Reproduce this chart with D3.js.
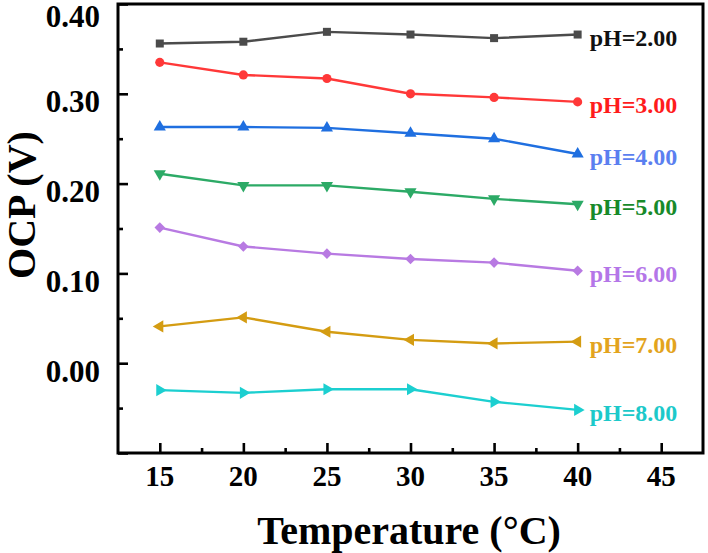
<!DOCTYPE html>
<html>
<head>
<meta charset="utf-8">
<script src="https://cdn.jsdelivr.net/npm/d3@7"></script>
<style>
  html, body { margin: 0; padding: 0; background: #fff; }
  svg { display: block; }
</style>
</head>
<body>
<svg id="chart" width="708" height="553" font-family="'Liberation Serif', 'Times New Roman', Times, serif" font-weight="bold"></svg>
<script>
// ---- Data ----
const temperatures = [15, 20, 25, 30, 35, 40];
const seriesNames = ["pH=2.00", "pH=3.00", "pH=4.00", "pH=5.00", "pH=6.00", "pH=7.00", "pH=8.00"];
const pH2 = [0.356, 0.358, 0.369, 0.366, 0.362, 0.366];
const pH3 = [0.335, 0.321, 0.317, 0.300, 0.296, 0.291];
const pH4 = [0.263, 0.263, 0.262, 0.256, 0.250, 0.233];
const pH5 = [0.211, 0.198, 0.198, 0.191, 0.183, 0.177];
const pH6 = [0.151, 0.130, 0.122, 0.116, 0.112, 0.103];
const pH7 = [0.041, 0.051, 0.035, 0.026, 0.022, 0.024];
const pH8 = [-0.030, -0.033, -0.029, -0.029, -0.043, -0.052];
const xTicks = [15, 20, 25, 30, 35, 40, 45];
const yTicks = [0.00, 0.10, 0.20, 0.30, 0.40];

// ---- Styles ----
const lineColors = ["#4b4b4b", "#ff3838", "#1f6fe0", "#2caa66", "#b87ae2", "#d49c12", "#1ccfd0"];
const textColors = ["#111111", "#ff1c1c", "#5b7ff0", "#178a2a", "#b476e8", "#e3a41e", "#1cc9ca"];
const symbols = [
  {type: d3.symbolSquare, size: 64, rot: 0},
  {type: d3.symbolCircle, size: 66, rot: 0},
  {type: d3.symbolTriangle, size: 64, rot: 0},
  {type: d3.symbolTriangle, size: 64, rot: 180},
  {type: d3.symbolSquare, size: 56, rot: 45},
  {type: d3.symbolTriangle, size: 64, rot: -90},
  {type: d3.symbolTriangle, size: 64, rot: 90}
];
const allSeries = [pH2, pH3, pH4, pH5, pH6, pH7, pH8];

const svg = d3.select("#chart");
const mLeft = 118, mRight = 703, mTop = 4, mBottom = 453;

const x = d3.scaleLinear().domain([12.5, 47.5]).range([mLeft, mRight]);
const y = d3.scaleLinear().domain([-0.1, 0.4]).range([mBottom, mTop]);

// ---- Axes (ticks inward) ----
svg.append("g").attr("transform", `translate(0,${mBottom})`)
  .call(d3.axisBottom(x).tickValues(xTicks).tickSize(-10).tickFormat(""))
  .call(g => g.select(".domain").remove())
  .call(g => g.selectAll("line").attr("stroke", "#000").attr("stroke-width", 2.6));
svg.append("g").attr("transform", `translate(0,${mBottom})`)
  .call(d3.axisBottom(x).tickValues([17.5, 22.5, 27.5, 32.5, 37.5, 42.5]).tickSize(-5).tickFormat(""))
  .call(g => g.select(".domain").remove())
  .call(g => g.selectAll("line").attr("stroke", "#000").attr("stroke-width", 2.6));

svg.append("g").selectAll("text").data(xTicks).join("text")
  .attr("x", d => x(d)).attr("y", 476)
  .attr("text-anchor", "middle").attr("dominant-baseline", "central")
  .attr("font-size", 29).attr("fill", "#000")
  .text(d => d);

svg.append("g").attr("transform", `translate(${mLeft},0)`)
  .call(d3.axisLeft(y).tickValues(yTicks.concat([-0.1])).tickSize(-10).tickFormat(""))
  .call(g => g.select(".domain").remove())
  .call(g => g.selectAll("line").attr("stroke", "#000").attr("stroke-width", 2.6));
svg.append("g").attr("transform", `translate(${mLeft},0)`)
  .call(d3.axisLeft(y).tickValues([-0.05, 0.05, 0.15, 0.25, 0.35]).tickSize(-5).tickFormat(""))
  .call(g => g.select(".domain").remove())
  .call(g => g.selectAll("line").attr("stroke", "#000").attr("stroke-width", 2.6));

svg.append("g").selectAll("text").data(yTicks).join("text")
  .attr("x", 100).attr("y", d => y(d) + (d === 0.4 ? 12 : 8))
  .attr("text-anchor", "end").attr("dominant-baseline", "central")
  .attr("font-size", 31).attr("fill", "#000")
  .text(d => d3.format(".2f")(d));

// ---- Frame ----
svg.append("rect")
  .attr("x", mLeft).attr("y", mTop)
  .attr("width", mRight - mLeft).attr("height", mBottom - mTop)
  .attr("fill", "none").attr("stroke", "#000").attr("stroke-width", 3);

// ---- Series ----
const line = d3.line().x((d, i) => x(temperatures[i])).y(d => y(d));
allSeries.forEach((vals, s) => {
  const g = svg.append("g");
  g.append("path").datum(vals)
    .attr("d", line).attr("fill", "none")
    .attr("stroke", lineColors[s]).attr("stroke-width", 2.4);
  const sym = d3.symbol().type(symbols[s].type).size(symbols[s].size);
  g.selectAll("path.m").data(vals).join("path").attr("class", "m")
    .attr("d", sym)
    .attr("transform", (d, i) => `translate(${x(temperatures[i])},${y(d)}) rotate(${symbols[s].rot})`)
    .attr("fill", lineColors[s]);
  const last = vals[vals.length - 1];
  g.append("text")
    .attr("x", x(temperatures[temperatures.length - 1]) + 12)
    .attr("y", y(last) + 3)
    .attr("dominant-baseline", "central")
    .attr("font-size", 24).attr("fill", textColors[s])
    .text(seriesNames[s]);
});

// ---- Axis titles ----
svg.append("text")
  .attr("x", 409).attr("y", 544)
  .attr("text-anchor", "middle")
  .attr("font-size", 40).attr("fill", "#000")
  .text("Temperature (°C)");

svg.append("text")
  .attr("transform", "translate(35,205) rotate(-90)")
  .attr("text-anchor", "middle")
  .attr("font-size", 40).attr("fill", "#000")
  .text("OCP (V)");
</script>
</body>
</html>
